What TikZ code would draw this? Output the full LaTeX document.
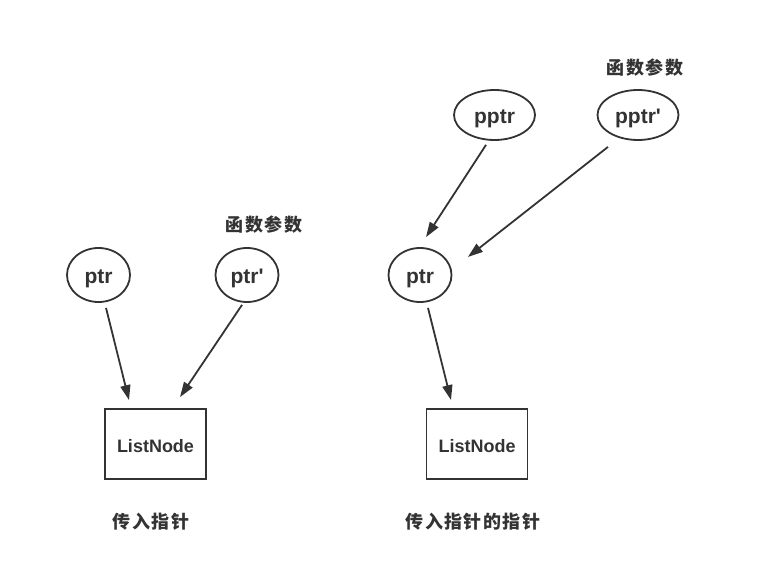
\documentclass[tikz,border=0pt]{standalone}
\usepackage{fontspec}
\setmainfont{Liberation Sans}
\newfontfamily\cjk[LetterSpace=8]{Noto Sans CJK SC}
\usetikzlibrary{shapes.geometric,arrows.meta,calc}
\definecolor{ink}{HTML}{333333}
\begin{document}
\begin{tikzpicture}[x=1pt,y=-1pt,
  ell/.style={draw=ink,line width=1.8pt,ellipse,inner sep=0pt,minimum width=63pt,minimum height=54pt,font=\fontsize{21}{24}\selectfont\bfseries,text=ink,text depth=0pt,text height=17pt},
  ellw/.style={ell,minimum width=81pt,minimum height=50pt},
  box/.style={draw=ink,line width=1.8pt,rectangle,inner sep=0pt,minimum width=101pt,minimum height=70pt,font=\fontsize{18}{21}\selectfont\bfseries,text=ink,text depth=0pt,text height=16pt},
  lbl/.style={font=\fontsize{18}{20}\selectfont\cjk\bfseries,text=ink},
  arr/.style={draw=ink,line width=1.8pt,-{Triangle[length=15pt,width=10pt]}}]
\useasboundingbox (0,0) rectangle (757,585);
% left
\node[ell] (ptrA) at (98.5,275) {ptr};
\node[ell] (ptrB) at (247,275) {ptr\textquotesingle};
\node[lbl] (fnA) at (264,225) {函数参数};
\node[box] (boxA) at (155.5,444) {ListNode};
\node[lbl] (capA) at (151,522) {传入指针};
\draw[arr] ($(ptrA.south)+(7.5,5)$) -- ($(boxA.north)+(-26.5,-8)$);
\draw[arr] ($(ptrB.south)+(-5,2)$) -- ($(boxA.north)+(24.5,-11)$);
% right
\node[ellw] (pptrA) at (494.5,115) {pptr};
\node[ellw] (pptrB) at (638,115) {pptr\textquotesingle};
\node[lbl] (fnB) at (645,68) {函数参数};
\node[ell] (ptrC) at (420,275) {ptr};
\node[box] (boxB) at (477,444) {ListNode};
\node[lbl] (capB) at (473,522) {传入指针的指针};
\draw[arr] ($(pptrA.south)+(-8.5,4)$) -- ($(ptrC.north)+(6,-10)$);
\draw[arr] ($(pptrB.south)+(-30,6)$) -- ($(ptrC.east)+(15.5,-18)$);
\draw[arr] ($(ptrC.south)+(8,5)$) -- ($(boxB.north)+(-26,-8)$);
\end{tikzpicture}
\end{document}
